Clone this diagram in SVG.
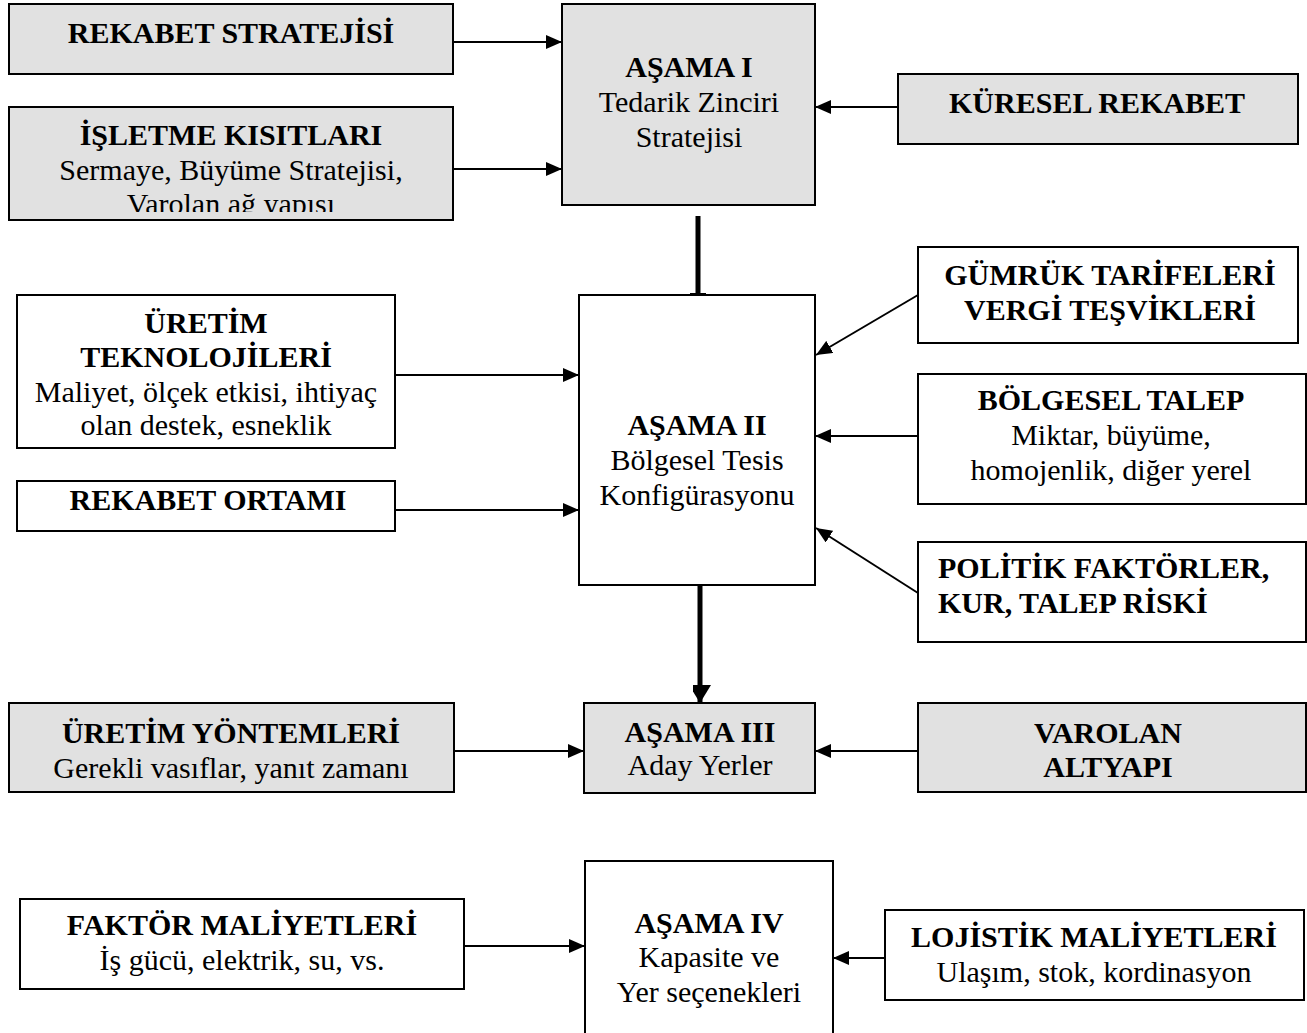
<svg xmlns="http://www.w3.org/2000/svg" width="1307" height="1033" viewBox="0 0 1307 1033">
<style>
.box{stroke:#000;stroke-width:2}
.g{fill:#e1e1e1}
.w{fill:#fff}
text{font-family:"Liberation Serif","Times New Roman",serif;font-size:30px;fill:#000;text-anchor:middle}
.b{font-weight:bold}
.l{text-anchor:start}
.c{stroke:#000;stroke-width:2;fill:none}
.t{stroke:#000;stroke-width:5;fill:none}
</style>
<defs>
<marker id="ah" markerWidth="16" markerHeight="14" refX="16" refY="7" orient="auto" markerUnits="userSpaceOnUse">
<path d="M0,0 L16,7 L0,14 Z" fill="#000"/>
</marker>
<marker id="ahb" markerWidth="22" markerHeight="18" refX="18" refY="11" orient="auto" markerUnits="userSpaceOnUse">
<path d="M0,0 L18,11 L0,22 Z" fill="#000"/>
</marker>
<clipPath id="clipI"><rect x="9" y="107" width="444" height="105"/></clipPath>
</defs>
<rect width="1307" height="1033" fill="#fff"/>

<g id="connectors">
<line class="c" x1="453" y1="42" x2="562" y2="42" marker-end="url(#ah)"/>
<line class="c" x1="453" y1="169" x2="562" y2="169" marker-end="url(#ah)"/>
<line class="c" x1="898" y1="107" x2="815" y2="107" marker-end="url(#ah)"/>
<line class="t" x1="698" y1="216" x2="698" y2="294"/>
<line class="c" x1="690" y1="294" x2="706" y2="294"/>
<line class="c" x1="395" y1="375" x2="579" y2="375" marker-end="url(#ah)"/>
<line class="c" x1="395" y1="510" x2="579" y2="510" marker-end="url(#ah)"/>
<line class="c" x1="918" y1="295" x2="816" y2="355" marker-end="url(#ah)"/>
<line class="c" x1="918" y1="436" x2="815" y2="436" marker-end="url(#ah)"/>
<line class="c" x1="918" y1="593" x2="816" y2="528" marker-end="url(#ah)"/>
<line class="t" x1="700" y1="585" x2="700" y2="703" marker-end="url(#ahb)"/>
<line class="c" x1="454" y1="751" x2="584" y2="751" marker-end="url(#ah)"/>
<line class="c" x1="918" y1="751" x2="815" y2="751" marker-end="url(#ah)"/>
<line class="c" x1="464" y1="946" x2="585" y2="946" marker-end="url(#ah)"/>
<line class="c" x1="885" y1="958" x2="833" y2="958" marker-end="url(#ah)"/>
</g>

<g id="rekabet-stratejisi">
<rect class="box g" x="9" y="4" width="444" height="70"/>
<text class="b" x="231" y="43">REKABET STRATEJİSİ</text>
</g>

<g id="isletme-kisitlari">
<rect class="box g" x="9" y="107" width="444" height="113"/>
<g clip-path="url(#clipI)">
<text class="b" x="231" y="145">İŞLETME KISITLARI</text>
<text x="231" y="180">Sermaye, Büyüme Stratejisi,</text>
<text x="231" y="214">Varolan ağ yapısı</text>
</g>
</g>

<g id="asama-1">
<rect class="box g" x="562" y="4" width="253" height="201"/>
<text class="b" x="689" y="77">AŞAMA I</text>
<text x="689" y="112">Tedarik Zinciri</text>
<text x="689" y="147">Stratejisi</text>
</g>

<g id="kuresel-rekabet">
<rect class="box g" x="898" y="74" width="400" height="70"/>
<text class="b" x="1097" y="113">KÜRESEL REKABET</text>
</g>

<g id="uretim-teknolojileri">
<rect class="box w" x="17" y="295" width="378" height="153"/>
<text class="b" x="206" y="333">ÜRETİM</text>
<text class="b" x="206" y="367">TEKNOLOJİLERİ</text>
<text x="206" y="402">Maliyet, ölçek etkisi, ihtiyaç</text>
<text x="206" y="435">olan destek, esneklik</text>
</g>

<g id="rekabet-ortami">
<rect class="box w" x="17" y="481" width="378" height="50"/>
<text class="b" x="208" y="510">REKABET ORTAMI</text>
</g>

<g id="asama-2">
<rect class="box w" x="579" y="295" width="236" height="290"/>
<text class="b" x="697" y="435">AŞAMA II</text>
<text x="697" y="470">Bölgesel Tesis</text>
<text x="697" y="505">Konfigürasyonu</text>
</g>

<g id="gumruk">
<rect class="box w" x="918" y="247" width="380" height="96"/>
<text class="b" x="1110" y="285">GÜMRÜK TARİFELERİ</text>
<text class="b" x="1110" y="320">VERGİ TEŞVİKLERİ</text>
</g>

<g id="bolgesel-talep">
<rect class="box w" x="918" y="374" width="388" height="130"/>
<text class="b" x="1111" y="410">BÖLGESEL TALEP</text>
<text x="1111" y="445">Miktar, büyüme,</text>
<text x="1111" y="480">homojenlik, diğer yerel</text>
</g>

<g id="politik">
<rect class="box w" x="918" y="542" width="388" height="100"/>
<text class="b l" x="938" y="578">POLİTİK FAKTÖRLER,</text>
<text class="b l" x="938" y="613">KUR, TALEP RİSKİ</text>
</g>

<g id="uretim-yontemleri">
<rect class="box g" x="9" y="703" width="445" height="89"/>
<text class="b" x="231" y="743">ÜRETİM YÖNTEMLERİ</text>
<text x="231" y="778">Gerekli vasıflar, yanıt zamanı</text>
</g>

<g id="asama-3">
<rect class="box g" x="584" y="703" width="231" height="90"/>
<text class="b" x="700" y="742">AŞAMA III</text>
<text x="700" y="775">Aday Yerler</text>
</g>

<g id="varolan-altyapi">
<rect class="box g" x="918" y="703" width="388" height="89"/>
<text class="b" x="1108" y="743">VAROLAN</text>
<text class="b" x="1108" y="777">ALTYAPI</text>
</g>

<g id="faktor-maliyetleri">
<rect class="box w" x="20" y="899" width="444" height="90"/>
<text class="b" x="242" y="935">FAKTÖR MALİYETLERİ</text>
<text x="242" y="970">İş gücü,  elektrik, su, vs.</text>
</g>

<g id="asama-4">
<rect class="box w" x="585" y="861" width="248" height="190"/>
<text class="b" x="709" y="933">AŞAMA IV</text>
<text x="709" y="967">Kapasite ve</text>
<text x="709" y="1002">Yer seçenekleri</text>
</g>

<g id="lojistik-maliyetleri">
<rect class="box w" x="885" y="910" width="419" height="90"/>
<text class="b" x="1094" y="947">LOJİSTİK MALİYETLERİ</text>
<text x="1094" y="982">Ulaşım, stok, kordinasyon</text>
</g>
</svg>
